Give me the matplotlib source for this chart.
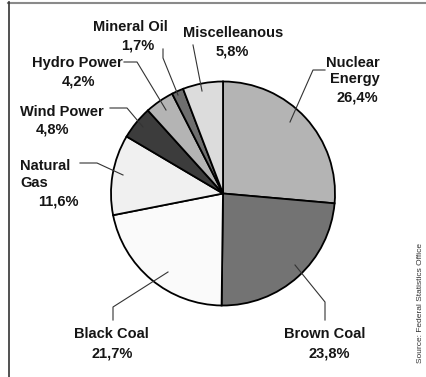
import matplotlib
matplotlib.use("Agg")
import matplotlib.pyplot as plt

# data
labels = ["Nuclear Energy", "Brown Coal", "Black Coal", "Natural Gas",
          "Wind Power", "Hydro Power", "Mineral Oil", "Miscelleanous"]
values = [26.4, 23.8, 21.7, 11.6, 4.8, 4.2, 1.7, 5.8]
colors = ["#b4b4b4", "#737373", "#fafafa", "#f0f0f0",
          "#3c3c3c", "#b4b4b4", "#6e6e6e", "#dcdcdc"]
source = "Source: Federal Statistics Office"

W, H = 426, 377

# label layout in pixel coords (top-down): text, x, y, ha
name_layout = [
    ("Nuclear\nEnergy", 380, 71, "right"),
    ("Brown Coal", 325, 334, "center"),
    ("Black Coal", 111, 334, "center"),
    ("Natural\nGas", 20, 174.5, "left"),
    ("Wind Power", 62, 112, "center"),
    ("Hydro Power", 77, 63, "center"),
    ("Mineral Oil", 130, 27, "center"),
    ("Miscelleanous", 233, 33, "center"),
]
pct_layout = [
    (378, 98, "right"),
    (329, 353, "center"),
    (112, 353, "center"),
    (58, 202, "center"),
    (53, 130, "center"),
    (79, 82, "center"),
    (138, 45, "center"),
    (232, 52, "center"),
]
leaders = [
    [(290, 122), (313, 70), (325, 70)],
    [(295, 265), (325, 302), (325, 320)],
    [(168, 272), (113, 307), (113, 320)],
    [(123, 175), (97, 163), (80, 163)],
    [(143, 127), (127, 108), (110, 108)],
    [(166, 110), (137, 62), (124, 62)],
    [(178, 95), (163, 58), (163, 49)],
    [(202, 91), (193, 45)],
]

plt.rcParams["font.family"] = ["Liberation Sans", "DejaVu Sans"]

fig = plt.figure(figsize=(W / 100, H / 100), dpi=100)
ax = fig.add_axes([0, 0, 1, 1])

ax.pie(values, colors=colors, startangle=90, counterclock=False,
       center=(223, H - 193.5), radius=112,
       wedgeprops=dict(edgecolor="black", linewidth=1.3))

ax.set_xlim(0, W)
ax.set_ylim(0, H)
ax.set_aspect("auto")
ax.axis("off")

for pts in leaders:
    xs = [p[0] for p in pts]
    ys = [H - p[1] for p in pts]
    ax.plot(xs, ys, color="#333333", lw=0.8)

for (txt, x, y, ha), v, (px, py, pha) in zip(name_layout, values, pct_layout):
    ax.text(x, H - y, txt, ha=ha, va="center", ma=ha,
            fontsize=10.5, fontweight="bold", color="#151515", linespacing=1.2)
    pct = f"{v:.1f}%".replace(".", ",")
    ax.text(px, H - py, pct, ha=pha, va="center",
            fontsize=10.5, fontweight="bold", color="#151515")

ax.text(421, H - 303, source, rotation=90, ha="center", va="center",
        fontsize=6, color="#333333")

# frame lines
ax.plot([8, W], [H - 2.5, H - 2.5], color="#8a8a8a", lw=1.5)
ax.plot([8.5, 8.5], [H - 2, 0], color="#333333", lw=1.2)

fig.savefig("out.png", dpi=100)
